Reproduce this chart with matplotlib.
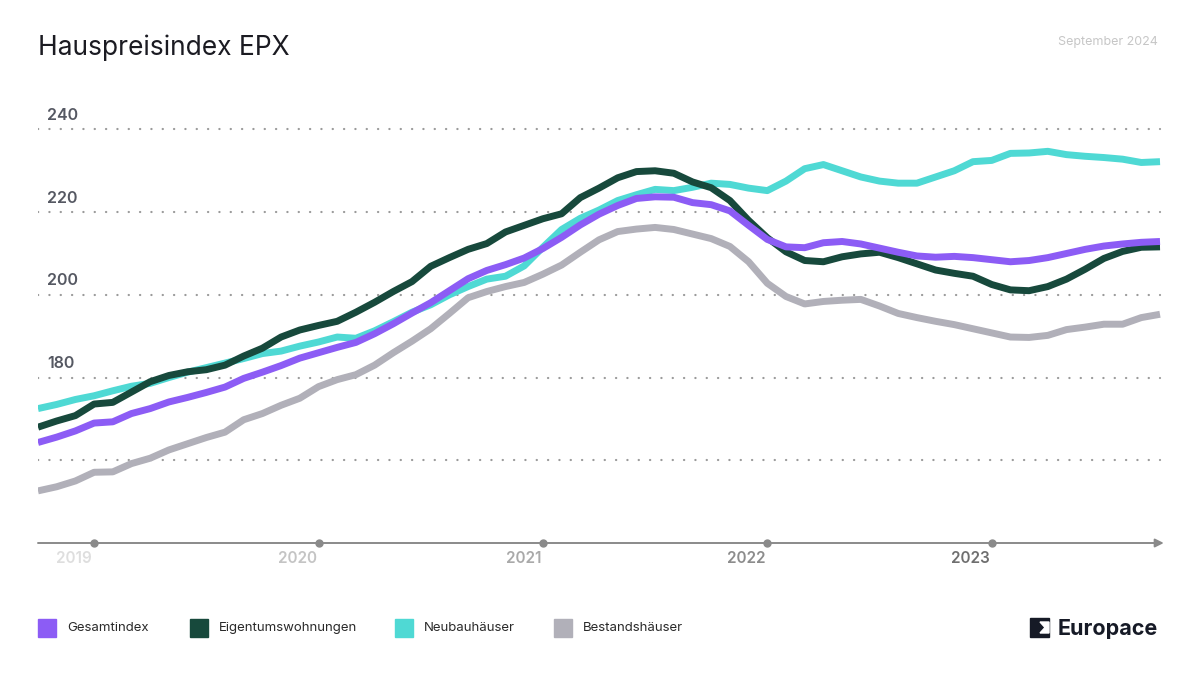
import numpy as np
import matplotlib.pyplot as plt
from matplotlib.patches import Rectangle, Polygon

plt.rcParams['font.family'] = ['Inter', 'DejaVu Sans']

# monthly values, first point = Oct 2018 on the chart's own axis labels
gesamtindex = [164.3, 165.6, 167.1, 169.0, 169.3, 171.3, 172.5, 174.1, 175.2, 176.4,
               177.7, 179.8, 181.3, 182.9, 184.7, 186.0, 187.3, 188.5, 190.6, 193.0,
               195.6, 198.1, 201.0, 203.9, 205.9, 207.3, 208.9, 211.2, 213.9, 216.9,
               219.5, 221.6, 223.3, 223.7, 223.6, 222.3, 221.8, 220.3, 216.8, 213.4,
               211.6, 211.4, 212.6, 212.9, 212.3, 211.3, 210.3, 209.4, 209.1, 209.3,
               209.0, 208.5, 208.0, 208.3, 209.0, 210.0, 211.0, 211.8, 212.3, 212.7, 212.9]
eigentumswohnungen = [168.0, 169.5, 170.8, 173.6, 174.0, 176.5, 179.0, 180.5, 181.4, 181.9,
                      183.0, 185.2, 187.1, 189.8, 191.5, 192.6, 193.6, 195.8, 198.2, 200.8,
                      203.2, 206.9, 209.0, 211.0, 212.4, 215.2, 216.8, 218.4, 219.6, 223.5,
                      225.8, 228.3, 229.8, 230.0, 229.4, 227.3, 225.9, 222.8, 218.0, 213.8,
                      210.4, 208.3, 208.0, 209.2, 209.9, 210.3, 209.0, 207.5, 206.0, 205.2,
                      204.5, 202.5, 201.2, 201.0, 202.0, 203.8, 206.2, 208.8, 210.5, 211.5, 211.6]
neubauhaeuser = [172.5, 173.5, 174.7, 175.6, 176.8, 177.9, 178.6, 180.0, 181.3, 182.4,
                 183.5, 184.6, 185.8, 186.4, 187.6, 188.6, 189.8, 189.5, 191.3, 193.5,
                 195.8, 197.6, 200.0, 202.0, 203.8, 204.5, 207.0, 211.5, 215.8, 218.5,
                 220.5, 222.8, 224.2, 225.5, 225.2, 226.0, 227.0, 226.7, 225.8, 225.2,
                 227.5, 230.5, 231.5, 230.0, 228.5, 227.5, 227.0, 227.0, 228.5, 230.0,
                 232.2, 232.5, 234.2, 234.3, 234.7, 233.9, 233.5, 233.2, 232.8, 232.0, 232.2]
bestandshaeuser = [152.6, 153.6, 155.0, 157.1, 157.2, 159.2, 160.5, 162.5, 164.0, 165.5,
                   166.8, 169.8, 171.3, 173.3, 175.0, 177.8, 179.5, 180.7, 183.0, 186.0,
                   188.8, 191.8, 195.5, 199.3, 200.8, 202.0, 203.0, 205.0, 207.2, 210.3,
                   213.3, 215.3, 215.9, 216.3, 215.8, 214.7, 213.6, 211.7, 208.0, 202.8,
                   199.6, 197.8, 198.4, 198.7, 198.9, 197.3, 195.5, 194.5, 193.6, 192.8,
                   191.8, 190.8, 189.8, 189.7, 190.2, 191.6, 192.2, 192.9, 192.9, 194.5, 195.3]

series_names = ['Gesamtindex', 'Eigentumswohnungen', 'Neubauhäuser', 'Bestandshäuser']
series_colors = ['#8c5cf5', '#17493c', '#4fd9d4', '#b1b0b9']
year_labels = ['2019', '2020', '2021', '2022', '2023']
year_ticks = [3, 15, 27, 39, 51]
year_colors = ['#dedede', '#c4c4c4', '#a9a9a9', '#8c8c8c', '#6f6f6f']
grid_values = [160, 180, 200, 220, 240]
labeled_values = [180, 200, 220, 240]

months = np.arange(len(gesamtindex))

fig = plt.figure(figsize=(12, 6.75), dpi=100)
ax = fig.add_axes([38 / 1200, 132 / 675, 1125 / 1200, 438 / 675])
ax.set_xlim(0, 60.16)
ax.set_ylim(140, 245.9)
ax.axis('off')

# dotted grid
for v in grid_values:
    ax.plot([0, 60], [v, v], color='#9a9a9a', lw=1.6,
            linestyle=(0, (0.1, 5.0)), dash_capstyle='round', zorder=0)
for v in labeled_values:
    ax.text(0.5, v + 3.4, str(v), color='#555862', fontsize=11.5,
            fontweight='semibold', va='center', ha='left')

# lines, gray first so the index ends up on top
data = [gesamtindex, eigentumswohnungen, neubauhaeuser, bestandshaeuser]
zorders = [5, 4, 3, 2]
for vals, col, z in zip(data, series_colors, zorders):
    ax.plot(months, vals, color=col, lw=5, solid_capstyle='butt',
            solid_joinstyle='round', zorder=z)

# x axis with arrow
ax.annotate('', xy=(60.2, 140), xytext=(0, 140),
            arrowprops=dict(arrowstyle='-|>,head_length=0.5,head_width=0.25',
                            color='#8a8a8a', lw=1.4, shrinkA=0, shrinkB=0),
            annotation_clip=False)
ax.plot(year_ticks, [140] * len(year_ticks), 'o', ms=5, color='#8a8a8a',
        clip_on=False, zorder=6)
for t, lab, c in zip(year_ticks, year_labels, year_colors):
    ax.text(t - 0.1, 136.3, lab, color=c, fontsize=11, fontweight='semibold',
            ha='right', va='center')

# title and date
fig.text(38 / 1200, 1 - 48 / 675, 'Hauspreisindex EPX', fontsize=19,
         color='#1b1b22', ha='left', va='center')
fig.text(1158 / 1200, 1 - 42 / 675, 'September 2024', fontsize=9,
         color='#c6c6c6', ha='right', va='center')

# legend
legend_box = [38, 190, 395, 554]
for x0, name, col in zip(legend_box, series_names, series_colors):
    fig.patches.append(Rectangle((x0 / 1200, 1 - 637 / 675), 18 / 1200, 18 / 675,
                                 transform=fig.transFigure, color=col))
    fig.text((x0 + 29) / 1200, 1 - 628 / 675, name, fontsize=9.5,
             color='#2a2a2a', ha='left', va='center')

# Europace mark
fig.patches.append(Rectangle((1030 / 1200, 1 - 637 / 675), 19 / 1200, 19 / 675,
                             transform=fig.transFigure, color='#161a26'))
fig.patches.append(Polygon([(1040 / 1200, 1 - 622 / 675), (1049 / 1200, 1 - 622 / 675),
                            (1049 / 1200, 1 - 633 / 675), (1040 / 1200, 1 - 633 / 675),
                            (1045 / 1200, 1 - 627.5 / 675)],
                           closed=True, transform=fig.transFigure, color='white'))
fig.text(1058 / 1200, 1 - 629 / 675, 'Europace', fontsize=15.5, fontweight='bold',
         color='#161a26', ha='left', va='center')

fig.savefig('out.png', dpi=100, facecolor='white')
plt.close(fig)
